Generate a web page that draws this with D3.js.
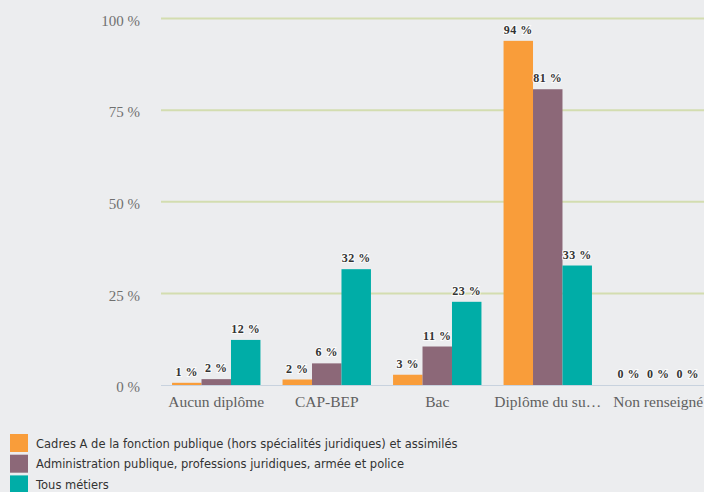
<!DOCTYPE html>
<html><head><meta charset="utf-8">
<script src="https://cdn.jsdelivr.net/npm/d3@7"></script>
<style>
html,body{margin:0;padding:0;background:#ecedef;overflow:hidden}
svg{display:block}
</style></head>
<body>
<svg id="chart" width="704" height="492"></svg>
<script>
const categories = ["Aucun diplôme", "CAP-BEP", "Bac", "Diplôme du su…", "Non renseigné"];
const seriesNames = [
  "Cadres A de la fonction publique (hors spécialités juridiques) et assimilés",
  "Administration publique, professions juridiques, armée et police",
  "Tous métiers"
];
const cadresA = [0.6, 1.5, 2.8, 93.9, 0];
const adminPub = [1.6, 5.9, 10.5, 80.7, 0];
const tousMetiers = [12.3, 31.6, 22.7, 32.6, 0];
const yTicks = [0, 25, 50, 75, 100];
const colors = ["#f99d3a", "#8c6878", "#00ada7"];

const seriesValues = [cadresA, adminPub, tousMetiers];
const svg = d3.select("#chart");
const x0 = d3.scaleBand().domain(categories).range([161, 713.5]).paddingInner(0.2).paddingOuter(0.1);
const x1 = d3.scaleBand().domain(d3.range(3)).range([0, x0.bandwidth()]);
const y = d3.scaleLinear().domain([0, 100]).range([385, 18.5]);

// gridlines
const gl = svg.append("g");
yTicks.filter(t => t > 0).forEach(t => {
  gl.append("line").attr("x1", 161).attr("x2", 704).attr("y1", y(t)).attr("y2", y(t))
    .attr("stroke", "#d3ddb0").attr("stroke-width", 2);
});
// y axis labels
const yAxis = d3.axisLeft(y).tickValues(yTicks).tickFormat(d => d + " %").tickSize(0).tickPadding(0);
const ya = svg.append("g").attr("transform", "translate(140,0)").call(yAxis);
ya.select(".domain").remove();
ya.selectAll("text").attr("font-family", "Liberation Serif, serif").attr("font-size", 15).attr("fill", "#707070").attr("dy", "0.45em");

// bars
const groups = svg.append("g").selectAll("g").data(categories).join("g")
  .attr("transform", d => `translate(${x0(d)},0)`);
groups.each(function(cat, ci) {
  const g = d3.select(this);
  seriesValues.forEach((vals, si) => {
    const v = vals[ci];
    g.append("rect").attr("x", x1(si)).attr("width", x1.bandwidth())
      .attr("y", y(v)).attr("height", y(0) - y(v)).attr("fill", colors[si]);
  });
});
// zero axis line
svg.append("line").attr("x1", 161).attr("x2", 704).attr("y1", y(0) + 0.5).attr("y2", y(0) + 0.5)
  .attr("stroke", "#c8d2de").attr("stroke-width", 1);

// value labels
groups.each(function(cat, ci) {
  const g = d3.select(this);
  seriesValues.forEach((vals, si) => {
    const v = vals[ci];
    g.append("text").attr("x", x1(si) + x1.bandwidth() / 2).attr("y", y(v) - 7)
      .attr("text-anchor", "middle").attr("font-family", "Liberation Serif, serif")
      .attr("font-size", 12).attr("font-weight", "bold").attr("fill", "#333")
      .attr("letter-spacing", 0.5)
      .attr("stroke", "#ffffff").attr("stroke-width", 2).attr("stroke-opacity", 0.8)
      .attr("paint-order", "stroke")
      .text(Math.round(v) + " %");
  });
});

// x axis labels
const xAxis = d3.axisBottom(x0).tickSize(0).tickPadding(0);
const xa = svg.append("g").attr("transform", `translate(0,${y(0)})`).call(xAxis);
xa.select(".domain").remove();
xa.selectAll("text").attr("font-family", "Liberation Serif, serif").attr("font-size", 15.5).attr("fill", "#606060").attr("dy", "1.45em");

// legend
const lg = svg.append("g");
seriesNames.forEach((name, i) => {
  const yy = 434 + i * 20.7;
  lg.append("rect").attr("x", 10).attr("y", yy).attr("width", 18).attr("height", 18).attr("fill", colors[i]);
  lg.append("text").attr("x", 36).attr("y", yy + 13.5).attr("font-family", "DejaVu Sans, sans-serif")
    .attr("font-size", 11.5).attr("fill", "#333").text(name);
});
</script>
</body></html>
